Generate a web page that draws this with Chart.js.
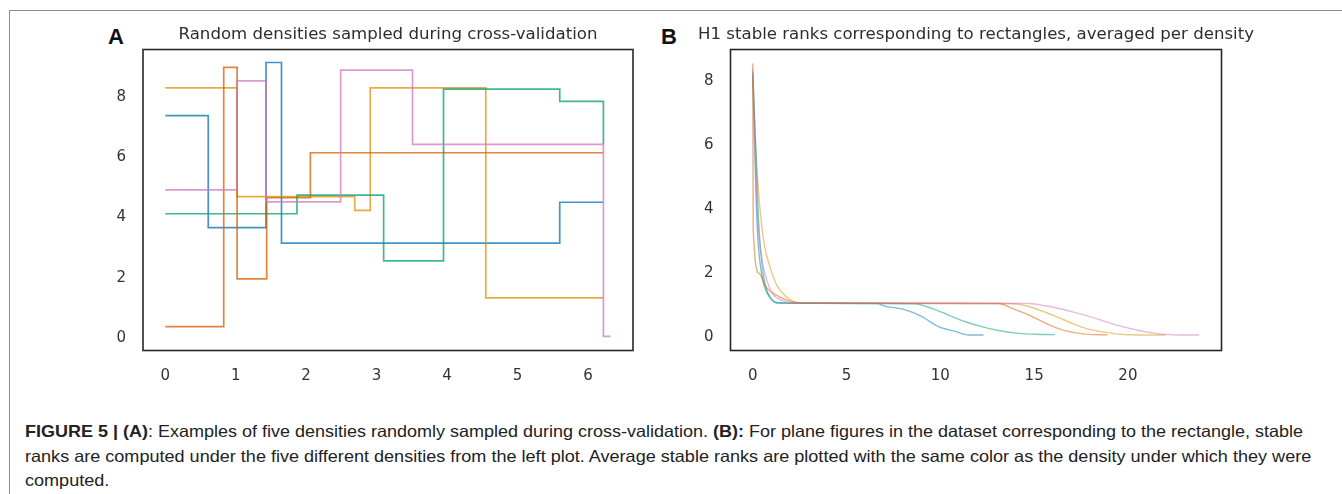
<!DOCTYPE html>
<html>
<head>
<meta charset="utf-8">
<script src="https://cdn.jsdelivr.net/npm/chart.js@4.4.0/dist/chart.umd.min.js"></script>
<style>
  body { margin: 0; width: 1342px; height: 494px; background: #fff; position: relative; overflow: hidden; font-family: "Liberation Sans", Arial, sans-serif; }
  .frame { position: absolute; left: 9px; top: 10px; width: 1400px; height: 600px; border-top: 1.5px solid #8c8c8c; border-left: 1.5px solid #8c8c8c; }
  canvas { position: absolute; top: 0; }
  .tag { position: absolute; top: 26px; font: bold 22px/22px "Liberation Sans", Arial, sans-serif; color: #111; }
  #caption { position: absolute; left: 25px; top: 419px; font-size: 16.5px; line-height: 24.5px; color: #222; }
  #caption div { white-space: nowrap; transform-origin: 0 0; width: max-content; }
</style>
</head>
<body>
<div class="frame"></div>
<div class="tag" style="left:108px">A</div>
<div class="tag" style="left:661px">B</div>
<canvas id="chartA" width="776" height="400" style="left:0px;width:776px;height:400px"></canvas>
<canvas id="chartB" width="632" height="400" style="left:660px;width:632px;height:400px"></canvas>
<div id="caption">
  <div><b>FIGURE 5 | (A)</b>: Examples of five densities randomly sampled during cross-validation. <b>(B):</b> For plane figures in the dataset corresponding to the rectangle, stable</div>
  <div>ranks are computed under the five different densities from the left plot. Average stable ranks are plotted with the same color as the density under which they were</div>
  <div>computed.</div>
</div>
<script>
// panel A: step densities, x = where a level starts, y = level
const aBlueX   = [0, 0.61, 1.43, 1.65, 5.60, 6.22];
const aBlueY   = [7.37, 3.66, 9.13, 3.15, 4.50, 4.50];
const aOrangeX = [0, 1.02, 2.69, 2.91, 4.55, 6.22];
const aOrangeY = [8.29, 4.69, 4.23, 8.29, 1.33, 1.33];
const aGreenX  = [0, 1.87, 3.10, 3.95, 5.60, 6.22];
const aGreenY  = [4.12, 4.74, 2.56, 8.25, 7.84, 6.42];
const aRedX    = [0, 0.83, 1.02, 1.44, 2.06, 6.22];
const aRedY    = [0.38, 8.97, 1.96, 4.65, 6.14, 6.14];
const aPinkX   = [0, 1.02, 1.43, 2.49, 3.51, 6.22, 6.32];
const aPinkY   = [4.91, 8.52, 4.51, 8.88, 6.42, 0.06, 0.06];

// panel B: averaged stable ranks
const bBlueX   = [0, 0.1, 0.25, 0.5, 0.87, 1.4, 3, 6.66, 7.0, 8.1, 9.0, 9.9, 10.8, 11.5, 12.3];
const bBlueY   = [8.2, 5.9, 3.3, 1.9, 1.28, 1.09, 1.07, 1.06, 0.99, 0.87, 0.66, 0.34, 0.19, 0.08, 0.08];
const bOrangeX = [0, 0.16, 0.34, 0.6, 0.96, 1.32, 1.77, 2.21, 2.84, 6, 13.8, 14.7, 15.95, 17.0, 17.9, 18.8, 20.1, 21.0, 22.0];
const bOrangeY = [8.0, 5.86, 4.3, 2.95, 2.12, 1.59, 1.28, 1.12, 1.07, 1.07, 1.06, 0.97, 0.71, 0.45, 0.26, 0.16, 0.085, 0.08, 0.08];
const bGreenX  = [0, 0.16, 0.34, 0.51, 0.69, 0.96, 1.32, 4, 8.63, 9.5, 10.4, 11.3, 12.2, 13.1, 14.2, 15.1, 16.1];
const bGreenY  = [8.3, 5.86, 3.26, 2.22, 1.59, 1.23, 1.07, 1.07, 1.05, 0.92, 0.71, 0.5, 0.34, 0.22, 0.13, 0.1, 0.09];
const bRedX    = [0, 0.02, 0.34, 0.69, 1.23, 1.77, 2.3, 5, 13.1, 13.8, 14.7, 15.6, 16.5, 17.4, 18.1, 18.9];
const bRedY    = [8.55, 3.4, 2.0, 1.59, 1.33, 1.18, 1.09, 1.07, 1.06, 0.92, 0.71, 0.45, 0.24, 0.13, 0.09, 0.085];
const bPinkX   = [0, 0.2, 0.42, 0.69, 1.05, 1.59, 2.12, 6, 14.7, 15.6, 17.0, 18.27, 19.5, 20.6, 21.5, 22.2, 23.0, 23.8];
const bPinkY   = [8.4, 4.5, 2.74, 1.91, 1.38, 1.15, 1.07, 1.07, 1.06, 0.99, 0.81, 0.60, 0.37, 0.22, 0.13, 0.09, 0.08, 0.08];

const aTicksX = [0, 1, 2, 3, 4, 5, 6];
const aTicksY = [0, 2, 4, 6, 8];
const bTicksX = [0, 5, 10, 15, 20];
const bTicksY = [0, 2, 4, 6, 8];

// seaborn colorblind
const colors = ['1,115,178', '222,143,5', '2,158,115', '213,94,0', '204,120,188'];

function pts(xs, ys) {
  return xs.map((x, i) => ({ x: x, y: ys[i] }));
}

const boxPlugin = {
  id: 'box',
  afterDraw(chart) {
    const a = chart.chartArea, ctx = chart.ctx;
    ctx.save();
    ctx.strokeStyle = '#262626';
    ctx.lineWidth = 1.6;
    ctx.strokeRect(a.left, a.top, a.right - a.left, a.bottom - a.top);
    ctx.restore();
  }
};

const tickFont = { family: 'DejaVu Sans', size: 15 };

function makePanel(id, title, series, xr, yr, ticksX, ticksY, yw, lineOpts) {
  const datasets = series.map((s, i) => Object.assign({
    data: pts(s[0], s[1]),
    borderColor: 'rgba(' + colors[i] + ',' + lineOpts.alpha + ')',
    borderWidth: lineOpts.width,
    pointRadius: 0,
    fill: false,
    order: series.length - 1 - i
  }, lineOpts.extra));

  new Chart(document.getElementById(id), {
    type: 'line',
    data: { datasets: datasets },
    options: {
      responsive: false,
      animation: false,
      events: [],
      layout: { padding: 0 },
      plugins: {
        legend: { display: false },
        tooltip: { enabled: false },
        title: {
          display: true,
          text: title,
          color: '#2e2e2e',
          font: { family: 'DejaVu Sans', size: 16.6, weight: 'normal', lineHeight: 1.2 },
          padding: { top: 25, bottom: 4.6 }
        }
      },
      scales: {
        x: {
          type: 'linear', min: xr[0], max: xr[1],
          grid: { display: false, drawTicks: false }, border: { display: false },
          ticks: { color: '#333', font: tickFont, padding: 16.5 },
          afterBuildTicks: s => { s.ticks = ticksX.map(v => ({ value: v })); },
          afterFit: s => { s.height = 49.5; }
        },
        y: {
          type: 'linear', min: yr[0], max: yr[1],
          grid: { display: false, drawTicks: false }, border: { display: false },
          ticks: { color: '#333', font: tickFont, padding: 17 },
          afterBuildTicks: s => { s.ticks = ticksY.map(v => ({ value: v })); },
          afterFit: s => { s.width = yw; }
        },
        y2: {
          position: 'right', display: true,
          grid: { display: false, drawTicks: false }, border: { display: false },
          ticks: { display: false },
          afterFit: s => { s.width = yw; }
        }
      }
    },
    plugins: [boxPlugin]
  });
}

makePanel('chartA', 'Random densities sampled during cross-validation',
  [[aBlueX, aBlueY], [aOrangeX, aOrangeY], [aGreenX, aGreenY], [aRedX, aRedY], [aPinkX, aPinkY]],
  [-0.316, 6.64], [-0.41, 9.56], aTicksX, aTicksY, 143,
  { alpha: 0.75, width: 1.7, extra: { stepped: true } });

makePanel('chartB', 'H1 stable ranks corresponding to rectangles, averaged per density',
  [[bBlueX, bBlueY], [bOrangeX, bOrangeY], [bGreenX, bGreenY], [bRedX, bRedY], [bPinkX, bPinkY]],
  [-1.19, 24.99], [-0.405, 8.99], bTicksX, bTicksY, 70.5,
  { alpha: 0.5, width: 1.4, extra: { cubicInterpolationMode: 'monotone' } });

// caption lines are set in a narrow face in the figure; squeeze to the same widths
const capLines = document.querySelectorAll('#caption div');
const capWidths = [1278, 1286];
let k = 1;
capLines.forEach((el, i) => {
  if (i < capWidths.length) k = capWidths[i] / el.offsetWidth;
  el.style.transform = 'scaleX(' + k + ')';
});
</script>
</body>
</html>
